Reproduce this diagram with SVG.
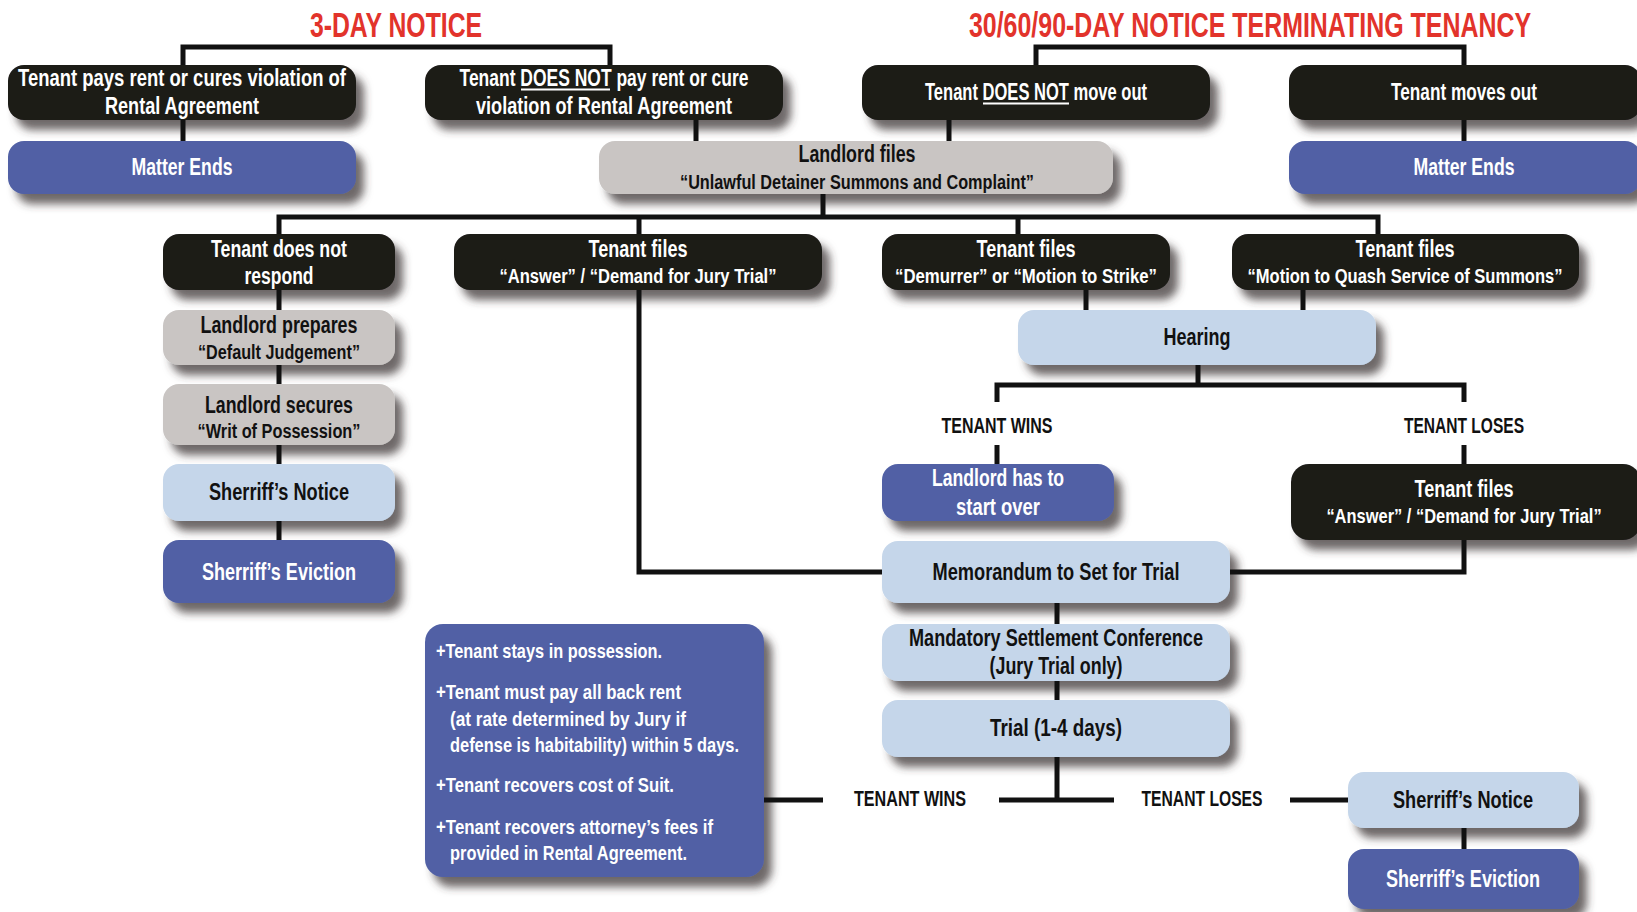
<svg xmlns="http://www.w3.org/2000/svg" width="1637" height="912" viewBox="0 0 1637 912">
<defs>
<filter id="sh" x="-0.2" y="-0.5" width="1.4" height="2.2">
<feDropShadow dx="8" dy="10" stdDeviation="4.5" flood-color="#3c3836" flood-opacity="0.75"/>
</filter>
<style>
text{font-family:"Liberation Sans Narrow","Liberation Sans",Arial,sans-serif;font-weight:bold;text-anchor:middle}
.title{font-size:36px;fill:#e2332b}
.m{font-size:23px}
.s{font-size:20px}
.lab{font-size:22px;fill:#111}
.o{font-size:21px;fill:#fff;text-anchor:start}
.w{fill:#fff}
.k{fill:#111}
.blk{fill:#1b1a18;filter:url(#sh)}
.blu{fill:#5161a5;filter:url(#sh)}
.gry{fill:#c9c5c3;filter:url(#sh)}
.lbl{fill:#c5d6ea;filter:url(#sh)}
.con{fill:none;stroke:#111;stroke-width:5;stroke-linejoin:miter}
.ul{fill:#fff}
</style>
</defs>
<rect width="1637" height="912" fill="#fff"/>

<text class="title" transform="translate(396,37) scale(0.7,1)" x="0" y="0" textLength="246" lengthAdjust="spacingAndGlyphs">3-DAY NOTICE</text>
<text class="title" transform="translate(1250,37) scale(0.7,1)" x="0" y="0" textLength="803" lengthAdjust="spacingAndGlyphs">30/60/90-DAY NOTICE TERMINATING TENANCY</text>

<g id="n-pays"><rect class="blk" x="8" y="65" width="348" height="55" rx="16"/>
<text class="m w" x="182" y="86" textLength="328" lengthAdjust="spacingAndGlyphs">Tenant pays rent or cures violation of</text>
<text class="m w" x="182" y="114" textLength="154" lengthAdjust="spacingAndGlyphs">Rental Agreement</text></g>

<g id="n-notpay"><rect class="blk" x="425" y="65" width="358" height="55" rx="16"/>
<text class="m w" x="604" y="86" textLength="289" lengthAdjust="spacingAndGlyphs">Tenant DOES NOT pay rent or cure</text>
<rect class="ul" x="521" y="88.5" width="89" height="2"/>
<text class="m w" x="604" y="114" textLength="256" lengthAdjust="spacingAndGlyphs">violation of Rental Agreement</text></g>

<g id="n-end1"><rect class="blu" x="8" y="141" width="348" height="53" rx="16"/>
<text class="m w" x="182" y="175" textLength="101" lengthAdjust="spacingAndGlyphs">Matter Ends</text></g>

<g id="n-lfiles"><rect class="gry" x="599" y="141" width="514" height="53" rx="16"/>
<text class="m k" x="857" y="162" textLength="117" lengthAdjust="spacingAndGlyphs">Landlord files</text>
<text class="s k" x="857" y="189" textLength="354" lengthAdjust="spacingAndGlyphs">“Unlawful Detainer Summons and Complaint”</text></g>

<g id="n-notmove"><rect class="blk" x="862" y="65" width="348" height="55" rx="16"/>
<text class="m w" x="1036" y="100" textLength="222" lengthAdjust="spacingAndGlyphs">Tenant DOES NOT move out</text>
<rect class="ul" x="983" y="102.5" width="86" height="2"/></g>

<g id="n-moves"><rect class="blk" x="1289" y="65" width="352" height="55" rx="16"/>
<text class="m w" x="1464" y="100" textLength="146" lengthAdjust="spacingAndGlyphs">Tenant moves out</text></g>

<g id="n-end2"><rect class="blu" x="1289" y="141" width="352" height="53" rx="16"/>
<text class="m w" x="1464" y="175" textLength="101" lengthAdjust="spacingAndGlyphs">Matter Ends</text></g>

<g id="n-norespond"><rect class="blk" x="163" y="234" width="232" height="56" rx="16"/>
<text class="m w" x="279" y="257" textLength="136" lengthAdjust="spacingAndGlyphs">Tenant does not</text>
<text class="m w" x="279" y="284" textLength="69" lengthAdjust="spacingAndGlyphs">respond</text></g>

<g id="n-answer"><rect class="blk" x="454" y="234" width="368" height="56" rx="16"/>
<text class="m w" x="638" y="257" textLength="99" lengthAdjust="spacingAndGlyphs">Tenant files</text>
<text class="s w" x="638" y="283" textLength="277" lengthAdjust="spacingAndGlyphs">“Answer” / “Demand for Jury Trial”</text></g>

<g id="n-demurrer"><rect class="blk" x="882" y="234" width="288" height="56" rx="16"/>
<text class="m w" x="1026" y="257" textLength="99" lengthAdjust="spacingAndGlyphs">Tenant files</text>
<text class="s w" x="1026" y="283" textLength="262" lengthAdjust="spacingAndGlyphs">“Demurrer” or “Motion to Strike”</text></g>

<g id="n-quash"><rect class="blk" x="1232" y="234" width="347" height="56" rx="16"/>
<text class="m w" x="1405" y="257" textLength="99" lengthAdjust="spacingAndGlyphs">Tenant files</text>
<text class="s w" x="1405" y="283" textLength="315" lengthAdjust="spacingAndGlyphs">“Motion to Quash Service of Summons”</text></g>

<g id="n-default"><rect class="gry" x="163" y="310" width="232" height="55" rx="16"/>
<text class="m k" x="279" y="333" textLength="157" lengthAdjust="spacingAndGlyphs">Landlord prepares</text>
<text class="s k" x="279" y="359" textLength="162" lengthAdjust="spacingAndGlyphs">“Default Judgement”</text></g>

<g id="n-writ"><rect class="gry" x="163" y="384" width="232" height="61" rx="16"/>
<text class="m k" x="279" y="413" textLength="148" lengthAdjust="spacingAndGlyphs">Landlord secures</text>
<text class="s k" x="279" y="438" textLength="163" lengthAdjust="spacingAndGlyphs">“Writ of Possession”</text></g>

<g id="n-notice1"><rect class="lbl" x="163" y="464" width="232" height="57" rx="16"/>
<text class="m k" x="279" y="500" textLength="140" lengthAdjust="spacingAndGlyphs">Sherriff’s Notice</text></g>

<g id="n-evict1"><rect class="blu" x="163" y="540" width="232" height="63" rx="16"/>
<text class="m w" x="279" y="580" textLength="154" lengthAdjust="spacingAndGlyphs">Sherriff’s Eviction</text></g>

<g id="n-hearing"><rect class="lbl" x="1018" y="310" width="358" height="55" rx="16"/>
<text class="m k" x="1197" y="345" textLength="67" lengthAdjust="spacingAndGlyphs">Hearing</text></g>

<g id="l-wins1"><text class="lab" x="997" y="433" textLength="111" lengthAdjust="spacingAndGlyphs">TENANT WINS</text></g>
<g id="l-loses1"><text class="lab" x="1464" y="433" textLength="120" lengthAdjust="spacingAndGlyphs">TENANT LOSES</text></g>

<g id="n-startover"><rect class="blu" x="882" y="464" width="232" height="57" rx="16"/>
<text class="m w" x="998" y="486" textLength="132" lengthAdjust="spacingAndGlyphs">Landlord has to</text>
<text class="m w" x="998" y="515" textLength="84" lengthAdjust="spacingAndGlyphs">start over</text></g>

<g id="n-answer2"><rect class="blk" x="1291" y="464" width="350" height="76" rx="18"/>
<text class="m w" x="1464" y="497" textLength="99" lengthAdjust="spacingAndGlyphs">Tenant files</text>
<text class="s w" transform="translate(1464,523) scale(0.75,1)" x="0" y="0" textLength="367" lengthAdjust="spacingAndGlyphs">“Answer” / “Demand for Jury Trial”</text></g>

<g id="n-memo"><rect class="lbl" x="882" y="541" width="348" height="62" rx="16"/>
<text class="m k" x="1056" y="580" textLength="247" lengthAdjust="spacingAndGlyphs">Memorandum to Set for Trial</text></g>

<g id="n-msc"><rect class="lbl" x="882" y="624" width="348" height="57" rx="16"/>
<text class="m k" x="1056" y="646" textLength="294" lengthAdjust="spacingAndGlyphs">Mandatory Settlement Conference</text>
<text class="m k" x="1056" y="674" textLength="133" lengthAdjust="spacingAndGlyphs">(Jury Trial only)</text></g>

<g id="n-trial"><rect class="lbl" x="882" y="700" width="348" height="57" rx="16"/>
<text class="m k" x="1056" y="736" textLength="132" lengthAdjust="spacingAndGlyphs">Trial (1-4 days)</text></g>

<g id="l-wins2"><text class="lab" x="910" y="806" textLength="112" lengthAdjust="spacingAndGlyphs">TENANT WINS</text></g>
<g id="l-loses2"><text class="lab" x="1202" y="806" textLength="121" lengthAdjust="spacingAndGlyphs">TENANT LOSES</text></g>

<g id="n-outcome"><rect class="blu" x="425" y="624" width="339" height="253" rx="18"/>
<text class="o" x="436" y="658" textLength="226" lengthAdjust="spacingAndGlyphs">+Tenant stays in possession.</text>
<text class="o" x="436" y="699" textLength="245" lengthAdjust="spacingAndGlyphs">+Tenant must pay all back rent</text>
<text class="o" x="450" y="726" textLength="236" lengthAdjust="spacingAndGlyphs">(at rate determined by Jury if</text>
<text class="o" x="450" y="752" textLength="289" lengthAdjust="spacingAndGlyphs">defense is habitability) within 5 days.</text>
<text class="o" x="436" y="792" textLength="238" lengthAdjust="spacingAndGlyphs">+Tenant recovers cost of Suit.</text>
<text class="o" x="436" y="834" textLength="277" lengthAdjust="spacingAndGlyphs">+Tenant recovers attorney’s fees if</text>
<text class="o" x="450" y="860" textLength="237" lengthAdjust="spacingAndGlyphs">provided in Rental Agreement.</text></g>

<g id="n-notice2"><rect class="lbl" x="1348" y="772" width="231" height="56" rx="16"/>
<text class="m k" x="1463" y="808" textLength="140" lengthAdjust="spacingAndGlyphs">Sherriff’s Notice</text></g>

<g id="n-evict2"><rect class="blu" x="1348" y="849" width="231" height="60" rx="16"/>
<text class="m w" x="1463" y="887" textLength="154" lengthAdjust="spacingAndGlyphs">Sherriff’s Eviction</text></g>

<g id="connectors">
<path class="con" d="M183 65V47H610V65"/>
<path class="con" d="M183 120V141"/>
<path class="con" d="M696 120V141"/>
<path class="con" d="M1036 65V47H1464V65"/>
<path class="con" d="M949 120V141"/>
<path class="con" d="M1464 120V141"/>
<path class="con" d="M823 194V217"/>
<path class="con" d="M279 234V217H1378V234"/>
<path class="con" d="M639 217V234"/>
<path class="con" d="M1018 217V234"/>
<path class="con" d="M279 290V310"/>
<path class="con" d="M279 365V384"/>
<path class="con" d="M279 445V464"/>
<path class="con" d="M279 521V540"/>
<path class="con" d="M639 290V572H882"/>
<path class="con" d="M1086 290V310"/>
<path class="con" d="M1303 290V310"/>
<path class="con" d="M1198 365V385"/>
<path class="con" d="M997 402V385H1464V402"/>
<path class="con" d="M997 445V464"/>
<path class="con" d="M1464 445V464"/>
<path class="con" d="M1464 540V572H1230"/>
<path class="con" d="M1057 603V624"/>
<path class="con" d="M1057 681V700"/>
<path class="con" d="M1057 757V800"/>
<path class="con" d="M999 800H1114"/>
<path class="con" d="M764 800H823"/>
<path class="con" d="M1290 800H1348"/>
<path class="con" d="M1464 828V849"/>
</g>
</svg>
